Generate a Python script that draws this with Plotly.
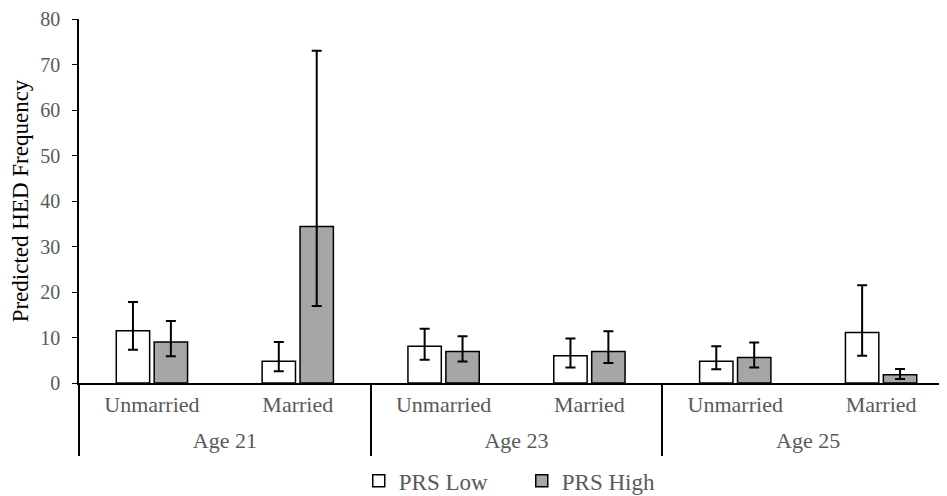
import plotly.graph_objects as go

ages = ["Age 21", "Age 21", "Age 23", "Age 23", "Age 25", "Age 25"]
status = ["Unmarried", "Married", "Unmarried", "Married", "Unmarried", "Married"]
age_groups = ["Age 21", "Age 23", "Age 25"]

low_vals = [11.5, 4.8, 8.1, 6.0, 4.8, 11.1]
low_upper = [17.8, 9.0, 11.9, 9.8, 8.1, 21.5]
low_lower = [7.3, 2.6, 5.1, 3.4, 3.0, 6.0]

high_vals = [9.0, 34.4, 6.9, 6.9, 5.6, 1.8]
high_upper = [13.6, 73.0, 10.3, 11.4, 8.9, 3.1]
high_lower = [5.9, 16.9, 4.7, 4.4, 3.4, 0.9]

y_ticks = [0, 10, 20, 30, 40, 50, 60, 70, 80]

FONT = "Liberation Serif"
GRAY_TXT = "#595959"

# unique category keys per bar position (age + status)
cat_keys = [f"{a}|{s}" for a, s in zip(ages, status)]


def err(vals, up, lo):
    return dict(
        type="data",
        symmetric=False,
        array=[u - v for u, v in zip(up, vals)],
        arrayminus=[v - l for v, l in zip(vals, lo)],
        color="black",
        thickness=2,
        width=5,
    )


fig = go.Figure()
fig.add_trace(go.Bar(
    x=cat_keys, y=low_vals, name="PRS Low",
    marker=dict(color="white", line=dict(color="black", width=1.5)),
    error_y=err(low_vals, low_upper, low_lower),
))
fig.add_trace(go.Bar(
    x=cat_keys, y=high_vals, name="PRS High",
    marker=dict(color="#a6a6a6", line=dict(color="black", width=1.5)),
    error_y=err(high_vals, high_upper, high_lower),
))
# invisible helper traces defining the outer (age group) category axes
for ax in ("x2", "x3"):
    fig.add_trace(go.Scatter(
        x=age_groups, y=[None] * len(age_groups), xaxis=ax, yaxis="y",
        mode="markers", showlegend=False, hoverinfo="skip",
    ))

n_groups = len(age_groups)
outer_range = [-0.5, n_groups - 0.5]

fig.update_layout(
    width=946, height=488,
    margin=dict(l=71, r=0, t=11, b=113, autoexpand=False),
    paper_bgcolor="white", plot_bgcolor="white",
    barmode="group", bargap=0.48, bargroupgap=0.12,
    font=dict(family=FONT, size=20, color=GRAY_TXT),
    showlegend=True,
    legend=dict(
        orientation="h", x=0.506, xanchor="center", y=-0.269, yanchor="middle",
        font=dict(family=FONT, size=23, color=GRAY_TXT),
        itemwidth=30, traceorder="normal",
        entrywidth=118, entrywidthmode="pixels",
    ),
    xaxis=dict(
        type="category", categoryorder="array", categoryarray=cat_keys,
        tickvals=cat_keys, ticktext=status,
        automargin=False,
        showline=True, linecolor="black", linewidth=1.5,
        ticks="", showgrid=False, zeroline=False,
        ticklabelstandoff=1,
        tickfont=dict(family=FONT, size=22, color=GRAY_TXT),
    ),
    # dividers between age groups
    xaxis2=dict(
        type="category", categoryorder="array", categoryarray=age_groups,
        range=outer_range,
        overlaying="x", anchor="y", side="bottom",
        automargin=False, showline=False, showgrid=False, zeroline=False,
        tickson="boundaries", ticks="outside", ticklen=72,
        tickcolor="black", tickwidth=1.5,
        showticklabels=False,
    ),
    # age group labels
    xaxis3=dict(
        type="category", categoryorder="array", categoryarray=age_groups,
        range=outer_range,
        overlaying="x", anchor="y", side="bottom",
        automargin=False, showline=False, showgrid=False, zeroline=False,
        ticks="", ticklabelstandoff=42,
        tickfont=dict(family=FONT, size=22, color=GRAY_TXT),
    ),
    yaxis=dict(
        range=[0, 80], tickvals=y_ticks, automargin=False,
        showline=True, linecolor="black", linewidth=1.5,
        ticks="outside", ticklen=5, tickcolor="black", tickwidth=1,
        ticklabelstandoff=8,
        showgrid=False, zeroline=False,
        tickfont=dict(family=FONT, size=20, color=GRAY_TXT),
        title=dict(text="Predicted HED Frequency",
                   font=dict(family=FONT, size=23, color="black"), standoff=10),
    ),
)

fig.write_html("out.html")
